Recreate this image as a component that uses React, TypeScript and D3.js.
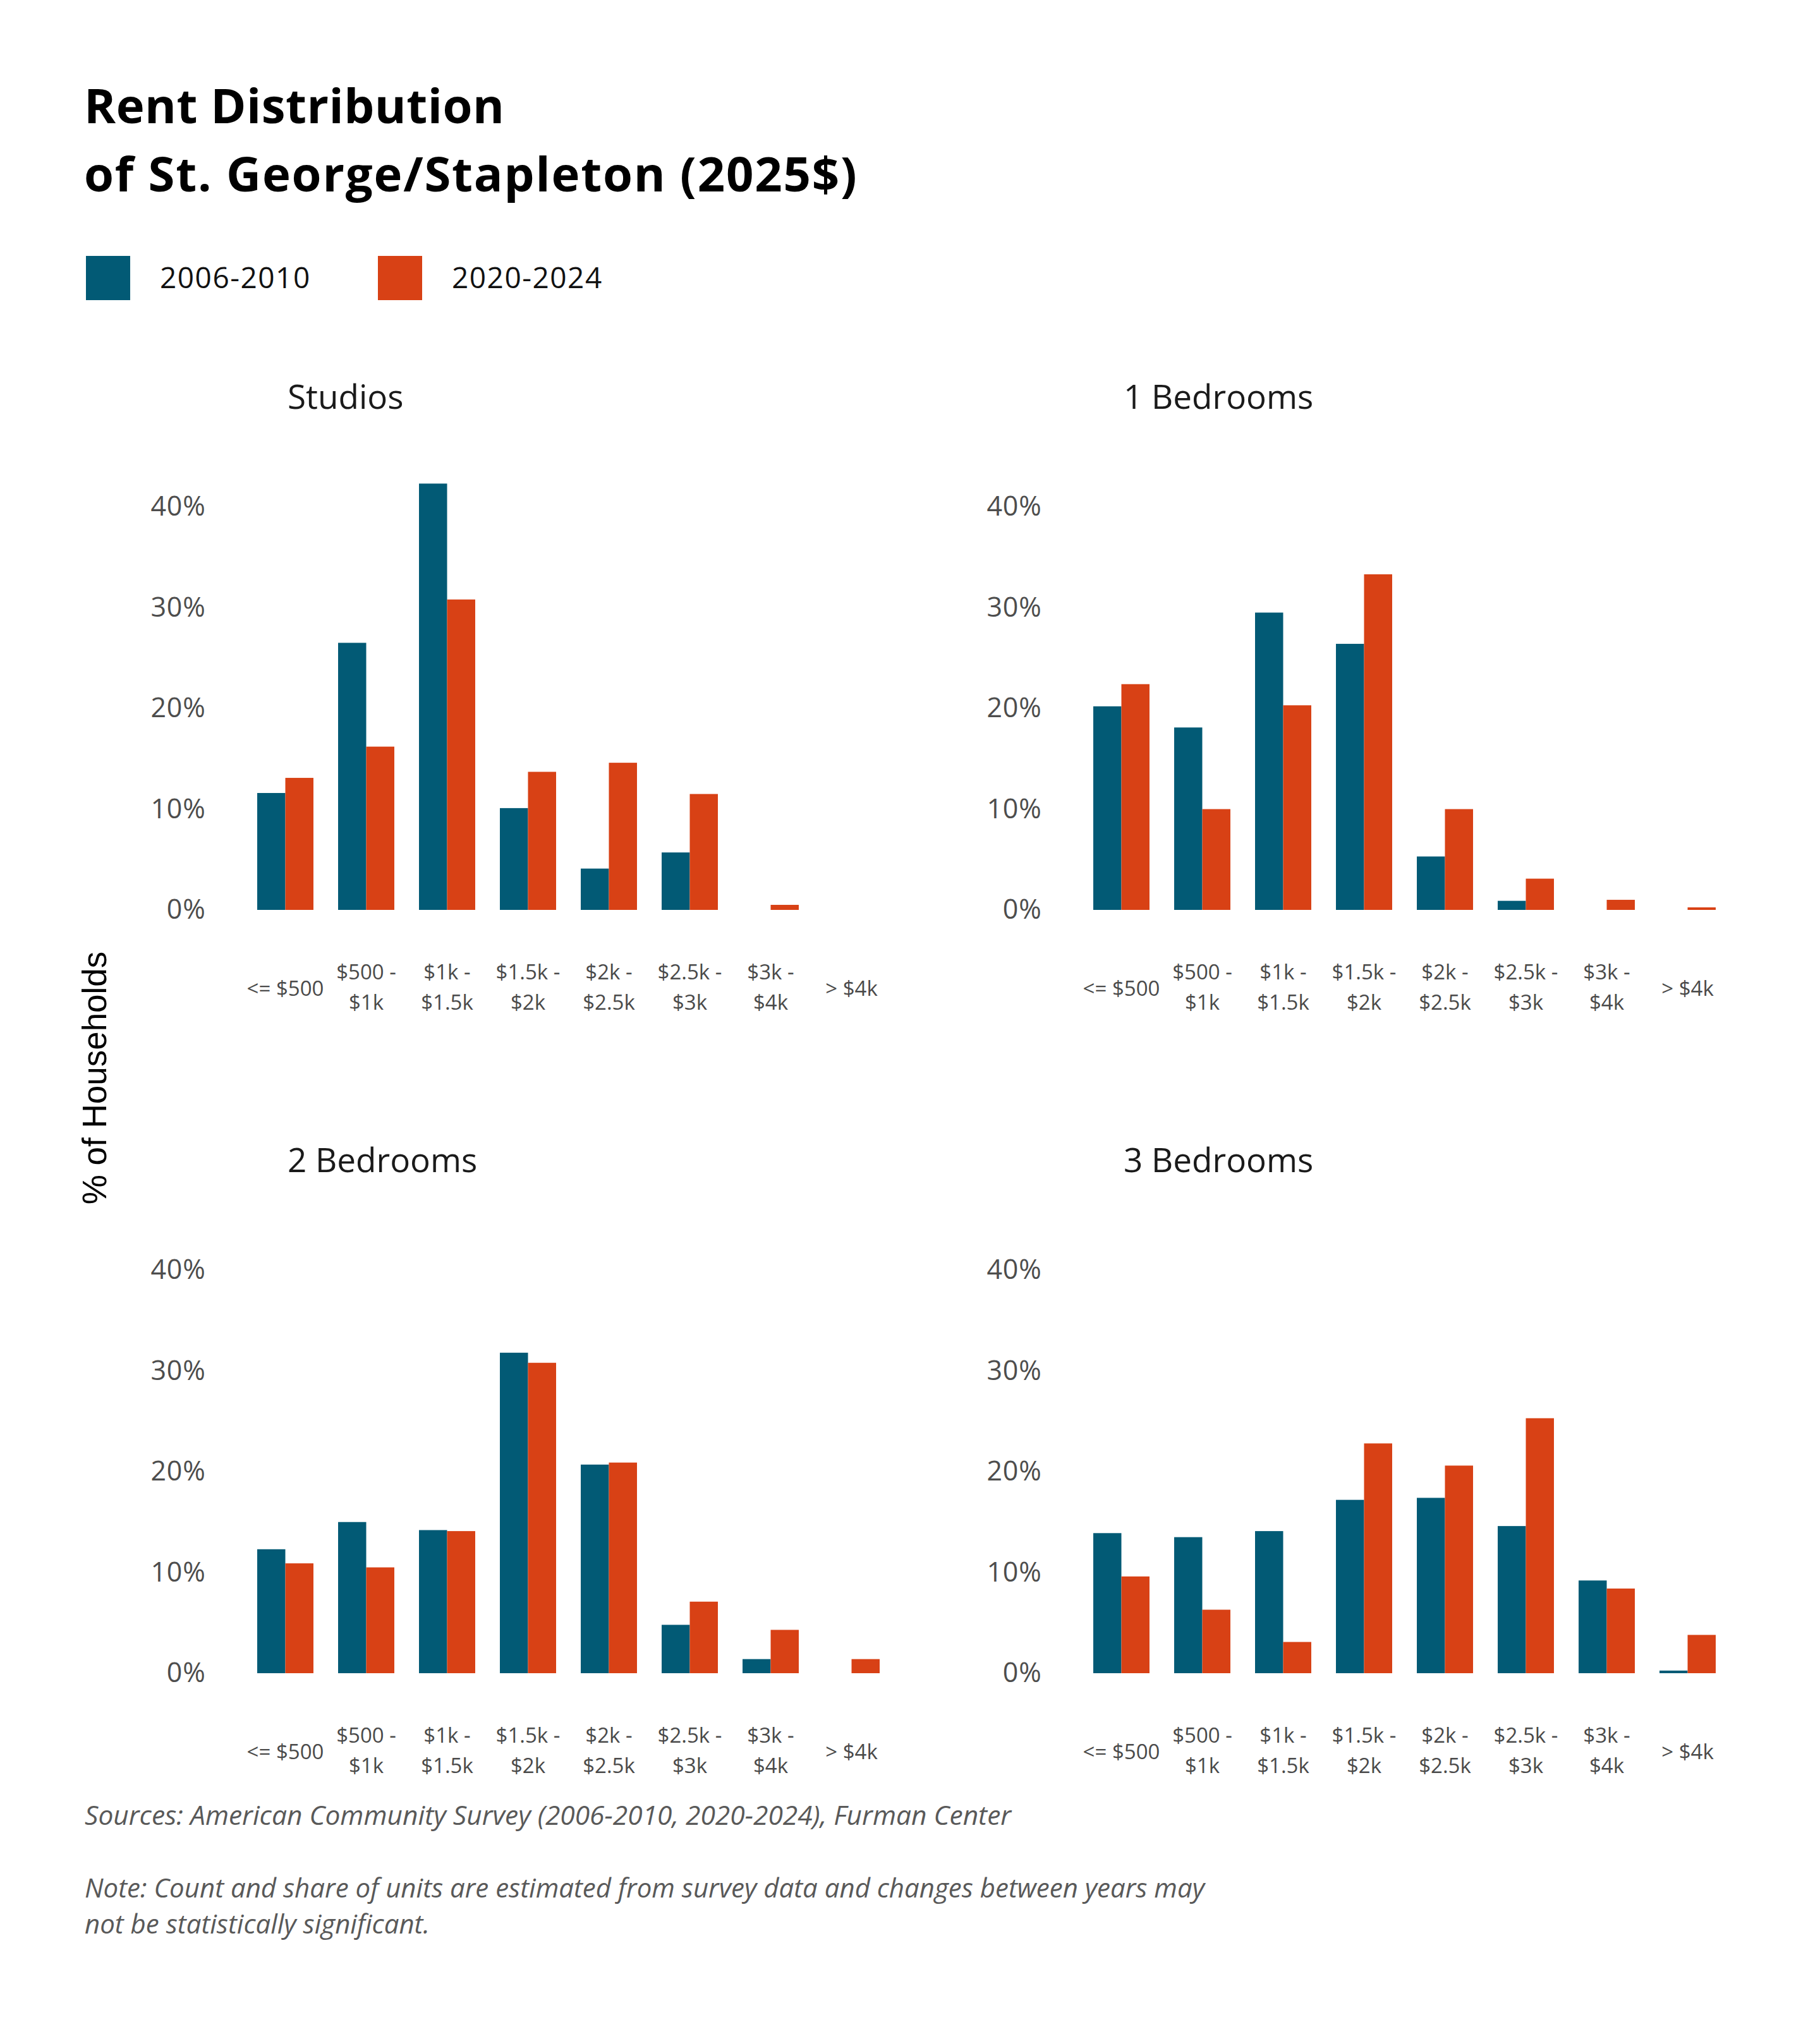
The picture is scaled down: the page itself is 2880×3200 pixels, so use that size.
import React, { useEffect, useRef } from 'react';
import * as d3 from 'd3';

const categories = ['<= $500', '$500 - $1k', '$1k - $1.5k', '$1.5k - $2k', '$2k - $2.5k', '$2.5k - $3k', '$3k - $4k', '> $4k'];
const categoryLines = [['<= $500'], ['$500 -', '$1k'], ['$1k -', '$1.5k'], ['$1.5k -', '$2k'], ['$2k -', '$2.5k'], ['$2.5k -', '$3k'], ['$3k -', '$4k'], ['> $4k']];
const seriesNames = ['2006-2010', '2020-2024'];
const seriesColors = ['#025a75', '#d84115'];
const panelTitles = ['Studios', '1 Bedrooms', '2 Bedrooms', '3 Bedrooms'];
const yTicks = [0, 10, 20, 30, 40];

// % of households, by rent bucket
const studios2006 = [11.6, 26.5, 42.3, 10.1, 4.1, 5.7, 0, 0];
const studios2020 = [13.1, 16.2, 30.8, 13.7, 14.6, 11.5, 0.5, 0];
const oneBed2006 = [20.2, 18.1, 29.5, 26.4, 5.3, 0.9, 0, 0];
const oneBed2020 = [22.4, 10.0, 20.3, 33.3, 10.0, 3.1, 1.0, 0.25];
const twoBed2006 = [12.3, 15.0, 14.2, 31.8, 20.7, 4.8, 1.4, 0];
const twoBed2020 = [10.9, 10.5, 14.1, 30.8, 20.9, 7.1, 4.3, 1.4];
const threeBed2006 = [13.9, 13.5, 14.1, 17.2, 17.4, 14.6, 9.2, 0.26];
const threeBed2020 = [9.6, 6.3, 3.1, 22.8, 20.6, 25.3, 8.4, 3.8];

const panelValues = [
    [studios2006, studios2020],
    [oneBed2006, oneBed2020],
    [twoBed2006, twoBed2020],
    [threeBed2006, threeBed2020],
];

const WIDTH = 2880;
const HEIGHT = 3200;
const FONT = '"Open Sans", Lato, sans-serif';

const App: React.FC = () => {
    const svgRef = useRef<SVGSVGElement>(null);

    useEffect(() => {
        if (!svgRef.current) return;
        const svg = d3.select(svgRef.current);
        svg.selectAll('*').remove();

        svg.append('rect').attr('width', WIDTH).attr('height', HEIGHT).attr('fill', '#fff');

        // Title
        const title = svg.append('text')
            .attr('font-family', FONT)
            .attr('font-weight', 700)
            .attr('font-size', 76)
            .attr('fill', '#000');
        title.append('tspan').attr('x', 133).attr('y', 195).attr('letter-spacing', 0.5).text('Rent Distribution');
        title.append('tspan').attr('x', 133).attr('y', 303).attr('letter-spacing', 1.8).text('of St. George/Stapleton (2025$)');

        // Legend
        const legendX = [136, 598];
        seriesNames.forEach((name, i) => {
            svg.append('rect')
                .attr('x', legendX[i]).attr('y', 405)
                .attr('width', 70).attr('height', 70)
                .attr('fill', seriesColors[i]);
            svg.append('text')
                .attr('x', legendX[i] + 117).attr('y', 456)
                .attr('font-family', FONT)
                .attr('font-size', 46)
                .attr('letter-spacing', 1.5)
                .attr('fill', '#111')
                .text(name);
        });

        // Y axis title
        svg.append('text')
            .attr('transform', 'translate(168,1706) rotate(-90)')
            .attr('text-anchor', 'middle')
            .attr('font-family', '"Liberation Sans", Arial, sans-serif')
            .attr('font-size', 53)
            .attr('fill', '#000')
            .text('% of Households');

        const panelLeft = [387.5, 1710.5, 387.5, 1710.5];
        const panelZero = [1440, 1440, 2648, 2648];
        const plotW = 1024;
        const plotH = 638;

        panelTitles.forEach((pt, p) => {
            const left = panelLeft[p];
            const zero = panelZero[p];

            const x = d3.scaleBand<string>()
                .domain(categories)
                .range([left, left + plotW])
                .paddingInner(0.305)
                .paddingOuter(0.1525);

            const xs = d3.scaleBand<string>()
                .domain(seriesNames)
                .range([0, x.bandwidth()]);

            const y = d3.scaleLinear()
                .domain([0, 40])
                .range([zero, zero - plotH]);

            const g = svg.append('g');

            g.append('text')
                .attr('x', left + 67.5)
                .attr('y', zero - 793)
                .attr('font-family', FONT)
                .attr('font-size', 53)
                .attr('fill', '#1a1a1a')
                .text(pt);

            // y axis
            const yAxis = g.append('g')
                .attr('transform', `translate(${left},0)`)
                .call(d3.axisLeft(y).tickValues(yTicks).tickSize(0).tickPadding(62).tickFormat(d => `${d}%`));
            yAxis.select('.domain').remove();
            yAxis.selectAll('text')
                .attr('font-family', FONT)
                .attr('font-size', 43)
                .attr('letter-spacing', 0.8)
                .attr('fill', '#4d4d4d');

            // bars
            seriesNames.forEach((s, si) => {
                g.append('g')
                    .selectAll('rect')
                    .data(panelValues[p][si])
                    .join('rect')
                    .attr('x', (_, i) => (x(categories[i]) as number) + (xs(s) as number))
                    .attr('y', d => y(d))
                    .attr('width', xs.bandwidth())
                    .attr('height', d => zero - y(d))
                    .attr('fill', seriesColors[si]);
            });

            // x labels
            const labels = g.append('g')
                .selectAll('text')
                .data(categories)
                .join('text')
                .attr('text-anchor', 'middle')
                .attr('font-family', FONT)
                .attr('font-size', 33)
                .attr('fill', '#4a4a4a');
            labels.each(function (c, i) {
                const lines = categoryLines[i];
                const cx = (x(c) as number) + x.bandwidth() / 2;
                const t = d3.select(this);
                if (lines.length === 1) {
                    t.append('tspan').attr('x', cx).attr('y', zero + 136).text(lines[0]);
                } else {
                    t.append('tspan').attr('x', cx).attr('y', zero + 110).text(lines[0]);
                    t.append('tspan').attr('x', cx).attr('y', zero + 158).text(lines[1]);
                }
            });
        });

        // Footnotes
        svg.append('text')
            .attr('x', 134).attr('y', 2888)
            .attr('font-family', FONT)
            .attr('font-style', 'italic')
            .attr('font-size', 42.5)
            .attr('fill', '#595959')
            .text('Sources: American Community Survey (2006-2010, 2020-2024), Furman Center');

        const note = svg.append('text')
            .attr('font-family', FONT)
            .attr('font-style', 'italic')
            .attr('font-size', 42)
            .attr('fill', '#595959');
        note.append('tspan').attr('x', 134).attr('y', 3003)
            .text('Note: Count and share of units are estimated from survey data and changes between years may');
        note.append('tspan').attr('x', 134).attr('y', 3060)
            .text('not be statistically significant.');
    }, []);

    return (
        <div style={{ position: 'absolute', left: 0, top: 0 }}>
            <svg ref={svgRef} width={WIDTH} height={HEIGHT} viewBox={`0 0 ${WIDTH} ${HEIGHT}`} style={{ display: 'block' }} />
        </div>
    );
};

export default App;
